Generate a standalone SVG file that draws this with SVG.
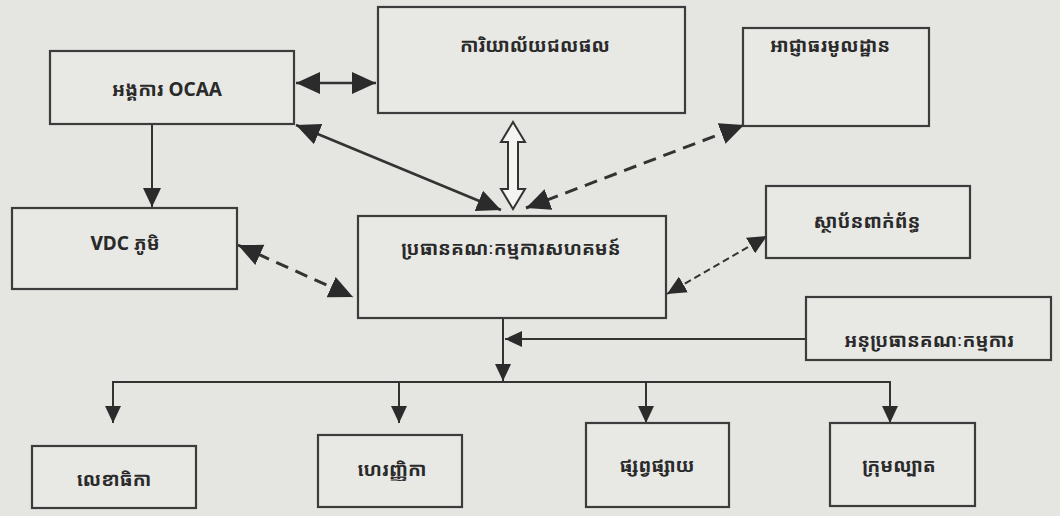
<svg xmlns="http://www.w3.org/2000/svg" width="1060" height="516" viewBox="0 0 1060 516">
<defs>
<style>
.bg{fill:#e5e5e2}
.box{fill:#e8e8e5;stroke:#3c3c3c;stroke-width:2.2}
.t{font-family:"Noto Sans Khmer","Khmer OS","Khmer OS System","DejaVu Sans","Liberation Sans",sans-serif;font-size:19px;font-weight:bold;fill:#2a2a2a;text-anchor:middle}
.solid{fill:none;stroke:#333;stroke-width:2.6}
.thin{fill:none;stroke:#333;stroke-width:2}
.dash{fill:none;stroke:#333;stroke-width:3;stroke-dasharray:13 8}
.dash2{fill:none;stroke:#333;stroke-width:2;stroke-dasharray:7 4}
.hollow{fill:#f4f4f2;stroke:#333;stroke-width:2;stroke-linejoin:miter}
</style>
<marker id="big" markerUnits="userSpaceOnUse" markerWidth="26" markerHeight="24" refX="24" refY="11" orient="auto-start-reverse" viewBox="0 0 26 22">
<path d="M0,0 L24,11 L0,22 Z" fill="#2b2b2b"/>
</marker>
<marker id="med" markerUnits="userSpaceOnUse" markerWidth="20" markerHeight="18" refX="19" refY="9" orient="auto-start-reverse" viewBox="0 0 20 18">
<path d="M0,0 L19,9 L0,18 Z" fill="#2b2b2b"/>
</marker>
<marker id="sm" markerUnits="userSpaceOnUse" markerWidth="18" markerHeight="16" refX="17" refY="8" orient="auto-start-reverse" viewBox="0 0 18 16">
<path d="M0,0 L17,8 L0,16 Z" fill="#2b2b2b"/>
</marker>
</defs>
<rect class="bg" x="0" y="0" width="1060" height="516"/>

<g id="connectors">
<line class="solid" x1="296" y1="83" x2="376" y2="83" stroke-width="3.2" marker-start="url(#big)" marker-end="url(#big)"/>
<line class="solid" x1="296" y1="125" x2="501" y2="210" marker-start="url(#big)" marker-end="url(#big)"/>
<line class="thin" x1="152" y1="124" x2="152" y2="207" marker-end="url(#med)"/>
<line class="dash" x1="238" y1="245" x2="353" y2="297" marker-start="url(#big)" marker-end="url(#big)"/>
<line class="dash" x1="526" y1="208" x2="744" y2="125" marker-start="url(#big)" marker-end="url(#big)"/>
<line class="dash2" x1="767" y1="236" x2="667" y2="294" marker-start="url(#med)" marker-end="url(#med)"/>
<path class="hollow" d="M513,122 L525,142 L518,142 L518,189 L525,189 L513,209 L501,189 L508,189 L508,142 L501,142 Z"/>
<line class="thin" x1="806" y1="339" x2="505" y2="339" marker-end="url(#sm)"/>
<line class="thin" x1="503" y1="318" x2="503" y2="381" marker-end="url(#sm)"/>
<polyline class="thin" points="113,423 113,382 890,382 890,423"/>
<line class="thin" x1="113" y1="382" x2="113" y2="423" marker-end="url(#sm)"/>
<line class="thin" x1="399" y1="382" x2="399" y2="423" marker-end="url(#sm)"/>
<line class="thin" x1="646" y1="382" x2="646" y2="423" marker-end="url(#sm)"/>
<line class="thin" x1="890" y1="382" x2="890" y2="423" marker-end="url(#sm)"/>
</g>

<g id="node-ocaa">
<rect class="box" x="50" y="51" width="244" height="73"/>
<text class="t" x="167" y="96">អង្គការ OCAA</text>
</g>
<g id="node-fisheries">
<rect class="box" x="378" y="7" width="307" height="106"/>
<text class="t" x="535" y="52">ការិយាល័យជលផល</text>
</g>
<g id="node-local-authority">
<rect class="box" x="743" y="28" width="186" height="98"/>
<text class="t" x="830" y="52">អាជ្ញាធរមូលដ្ឋាន</text>
</g>
<g id="node-vdc">
<rect class="box" x="12" y="208" width="225" height="81"/>
<text class="t" x="125" y="250">VDC  ភូមិ</text>
</g>
<g id="node-chair">
<rect class="box" x="358" y="216" width="308" height="102"/>
<text class="t" x="511" y="255">ប្រធានគណៈកម្មការសហគមន៍</text>
</g>
<g id="node-institutions">
<rect class="box" x="766" y="186" width="204" height="72"/>
<text class="t" x="867" y="228">ស្ថាប័នពាក់ព័ន្ធ</text>
</g>
<g id="node-vice-chair">
<rect class="box" x="806" y="297" width="245" height="63"/>
<text class="t" x="929" y="347">អនុប្រធានគណៈកម្មការ</text>
</g>
<g id="node-secretary">
<rect class="box" x="32" y="446" width="164" height="62"/>
<text class="t" x="114" y="486">លេខាធិកា</text>
</g>
<g id="node-treasurer">
<rect class="box" x="318" y="435" width="144" height="72"/>
<text class="t" x="392" y="476">ហេរញ្ញិកា</text>
</g>
<g id="node-dissemination">
<rect class="box" x="586" y="423" width="143" height="84"/>
<text class="t" x="657" y="472">ផ្សព្វផ្សាយ</text>
</g>
<g id="node-patrol">
<rect class="box" x="830" y="423" width="145" height="83"/>
<text class="t" x="899" y="472">ក្រុមល្បាត</text>
</g>
</svg>
